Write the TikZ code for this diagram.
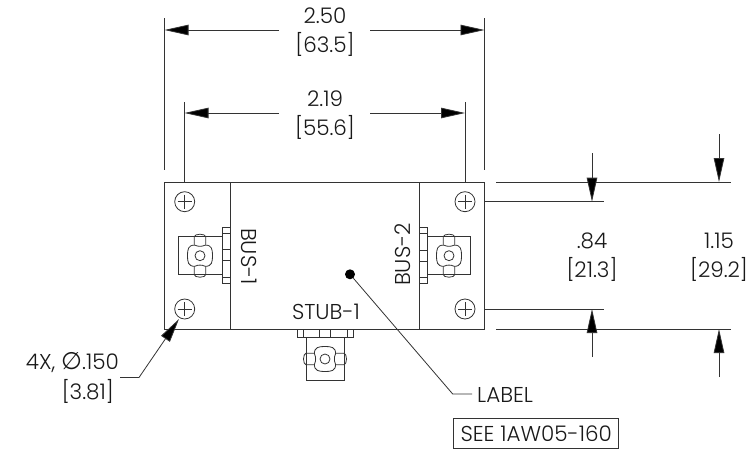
\documentclass[tikz,border=0pt]{standalone}
\usepackage{fontspec}
\setmainfont{Poppins Light}
\newfontfamily\symfont{DejaVu Sans}
\usetikzlibrary{arrows.meta}
\usetikzlibrary{positioning}
\tikzstyle{dimtext} = [font=\fontsize{21.5}{29}\selectfont, align=center, inner sep=0pt, text=black!90]
\tikzstyle{outline} = [draw=black!80, line width=1pt]
\tikzstyle{thin line} = [draw=black!80, line width=.8pt]
\tikzstyle{dimarrow} = [draw=black!80, line width=.8pt, -{Triangle[length=24pt,width=10.5pt,fill=black]}]
\tikzset{
  port/.pic={
    % Flange and body
    \draw[thin line, fill=white] (22,-28) rectangle (30,28);
    \draw[thin line] (22,-22) -- (30,-22) (22,-6) -- (30,-6) (22,5) -- (30,5) (22,22) -- (30,22);
    \draw[thin line] (22,-19) -- (-21.7,-19) -- (-21.7,19) -- (22,19);
    % Wing nut
    \draw[thin line] (-5.7,-9) -- (-5.7,-19) arc[x radius=5.7, y radius=2.5, start angle=180, end angle=360] -- (5.7,-9);
    \draw[thin line] (-5.7,9) -- (-5.7,19) arc[x radius=5.7, y radius=2.5, start angle=180, end angle=0] -- (5.7,9);
    \draw[thin line, fill=white] (-5,-10.5) .. controls (-12,-11) and (-12.5,-6) .. (-12.5,0)
      .. controls (-12.5,6) and (-12,11) .. (-5,10.5)
      .. controls (-2,9) and (2,9) .. (5,10.5)
      .. controls (12,11) and (12.5,6) .. (12.5,0)
      .. controls (12.5,-6) and (12,-11) .. (5,-10.5)
      .. controls (2,-9) and (-2,-9) .. (-5,-10.5) -- cycle;
    \draw[thin line] (0,0) circle (5);
  },
  hole/.pic={
    \draw[thin line] (0,0) circle (10);
    \draw[thin line] (-7,0) -- (7,0) (0,-7) -- (0,7);
  }
}

\begin{document}
\begin{tikzpicture}[x=1pt, y=-1pt]
\useasboundingbox (0,0) rectangle (753,450);

% Define nodes
\node[dimtext] (wide)   at (325,32) {2.50\\{[}63.5{]}};
\node[dimtext] (pitch)  at (325,115.5)  {2.19\\{[}55.6{]}};
\node[dimtext] (height) at (592,257.5)  {.84\\{[}21.3{]}};
\node[dimtext] (total)  at (719,257.5)  {1.15\\{[}29.2{]}};
\node[dimtext, rotate=-90] (bus1) at (249,256.5) {BUS-1};
\node[dimtext, rotate=90]  (bus2) at (403,254.5) {BUS-2};
\node[dimtext] (stub)  at (326,311.5) {STUB-1};
\node[dimtext, anchor=east] (holes) at (119,363) {4X, {\symfont\fontsize{24}{29}\selectfont ∅}.150};
\node[dimtext, anchor=east] (holesmm) at (114,391.5) {{[}3.81{]}};
\node[dimtext, anchor=west] (label) at (477,395) {LABEL};
\node[dimtext, draw=black!80, line width=.8pt, minimum width=165pt, minimum height=30pt] (see) at (536.2,433.3) {SEE 1AW05-160};
\node[circle, fill=black, inner sep=0pt, minimum size=10pt] (dot) at (350,274.3) {};

% Body
\node[outline, draw, minimum width=320pt, minimum height=147pt, inner sep=0pt] (case) at (324.5,255.5) {};
\coordinate (divleft1) at (230,182);  \coordinate (divleft2) at (230,329);
\coordinate (divright1) at (419.3,182); \coordinate (divright2) at (419.3,329);
\draw[outline] (divleft1) -- (divleft2);
\draw[outline] (divright1) -- (divright2);

\pic at (184.7,201.7) {hole};
\pic at (184.7,309)   {hole};
\pic at (465,201.7)   {hole};
\pic at (465,309)     {hole};

\pic at (200,255.7) {port};
\pic[rotate=180] at (449,255.7) {port};
\pic[rotate=90] at (325,359) {port};

% Extension lines
\coordinate (wa) at (164.5,18);  \coordinate (wb) at (164.5,170);
\coordinate (wc) at (484.5,18);  \coordinate (wd) at (484.5,170);
\coordinate (pa) at (184.5,102); \coordinate (pb) at (184.5,182);
\coordinate (pc) at (465,102);   \coordinate (pd) at (465,182);
\coordinate (ta) at (496,182);   \coordinate (tb) at (731,182);
\coordinate (tc) at (496,329);   \coordinate (td) at (731,329);
\coordinate (ha) at (484.5,201.7); \coordinate (hb) at (604,201.7);
\coordinate (hc) at (484.5,309);   \coordinate (hd) at (604,309);
\draw[thin line] (wa) -- (wb) (wc) -- (wd) (pa) -- (pb) (pc) -- (pd);
\draw[thin line] (ta) -- (tb) (tc) -- (td) (ha) -- (hb) (hc) -- (hd);

% Edges
\coordinate (w1) at (279,30);  \coordinate (w2) at (164.5,30);
\coordinate (w3) at (370,30);  \coordinate (w4) at (484.5,30);
\coordinate (p1) at (279,113); \coordinate (p2) at (184.5,113);
\coordinate (p3) at (370,113); \coordinate (p4) at (465,113);
\coordinate (h1) at (592,153); \coordinate (h2) at (592,201.7);
\coordinate (h3) at (592,357); \coordinate (h4) at (592,309);
\coordinate (t1) at (719,134); \coordinate (t2) at (719,182);
\coordinate (t3) at (719,377); \coordinate (t4) at (719,329);
\draw[dimarrow] (w1) -- (w2);
\draw[dimarrow] (w3) -- (w4);
\draw[dimarrow] (p1) -- (p2);
\draw[dimarrow] (p3) -- (p4);
\draw[dimarrow] (h1) -- (h2);
\draw[dimarrow] (h3) -- (h4);
\draw[dimarrow] (t1) -- (t2);
\draw[dimarrow] (t3) -- (t4);

% Leaders
\coordinate (l1) at (120,377.5); \coordinate (l2) at (139,377.5); \coordinate (l3) at (179,319);
\draw[dimarrow] (l1) -- (l2) -- (l3);
\coordinate (b1) at (452.7,394);
\coordinate (b2) at (472,394);
\draw[thin line] (dot) -- (b1) -- (b2);
\end{tikzpicture}
\end{document}
